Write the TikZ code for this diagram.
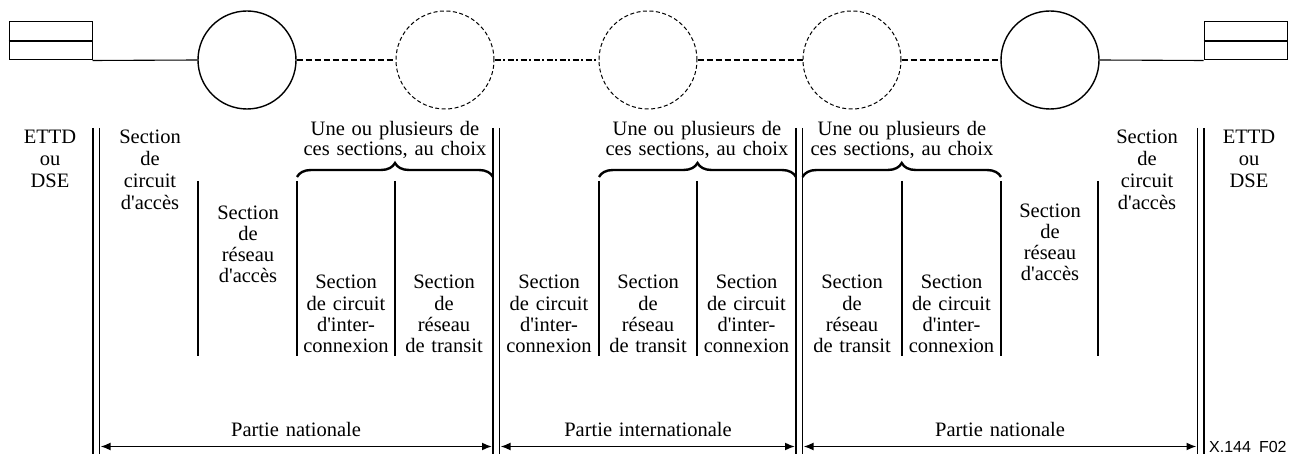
\documentclass[tikz,border=0pt]{standalone}
\usepackage{fontspec}
\setmainfont{Liberation Serif}
\newfontfamily\labfont{Liberation Sans}
\usetikzlibrary{arrows.meta,decorations.pathreplacing}
\newcommand{\ap}{\textquotesingle}
\begin{document}
\begin{tikzpicture}[x=1pt,y=-1pt,
  txt/.style={text width=#1, align=center, inner sep=0pt, anchor=base},
  txt/.default=110pt,
  topfont/.style={font=\fontsize{20.5}{22}\selectfont},
  midfont/.style={font=\fontsize{20.5}{21}\selectfont},
  botfont/.style={font=\fontsize{20.5}{21.3}\selectfont},
  bracefont/.style={font=\fontsize{20.5}{18.5}\selectfont},
  vline/.style={line width=1.7pt},
  nodebox/.style={draw, line width=1pt, minimum width=83pt, minimum height=38pt, inner sep=0pt},
  solidcirc/.style={draw, circle, line width=1.4pt, minimum size=98pt, inner sep=0pt},
  dashcirc/.style={draw, circle, line width=1pt, dash pattern=on 4pt off 2.5pt, minimum size=98pt, inner sep=0pt},
  dashline/.style={line width=1.6pt, dash pattern=on 6pt off 3pt},
  dotline/.style={line width=1.6pt, dash pattern=on 6pt off 2.5pt on 2pt off 2.5pt},
  solidline/.style={line width=1.1pt},
  bracestyle/.style={decorate, decoration={brace, amplitude=14pt}, line width=2.4pt},
  dimarrow/.style={line width=1.7pt, {Latex[length=10pt,width=8pt]}-{Latex[length=10pt,width=8pt]}}
]
\useasboundingbox (0,0) rectangle (1298,454);

% terminal boxes
\node[nodebox] (boxL) at (50.5,41) {};
\draw[line width=2pt] (boxL.west) -- (boxL.east);
\node[nodebox] (boxR) at (1245.5,41) {};
\draw[line width=2pt] (boxR.west) -- (boxR.east);

% exchanges
\node[solidcirc] (c1) at (247,60) {};
\node[dashcirc] (c2) at (445,60) {};
\node[dashcirc] (c3) at (648,60) {};
\node[dashcirc] (c4) at (852,60) {};
\node[solidcirc] (c5) at (1050,60) {};

\draw[solidline] (boxL.south east) -- (c1.west);
\draw[dashline] (c1.east) -- (c2.west);
\draw[dotline] (c2.east) -- (c3.west);
\draw[dashline] (c3.east) -- (c4.west);
\draw[dashline] (c4.east) -- (c5.west);
\draw[solidline] (c5.east) -- (boxR.south west);

% double boundary lines
\foreach \x in {93,99.5,493,499.5,796,802.5,1197.5,1204}
  \draw[vline] (\x,128) -- (\x,454);
% single section lines
\foreach \x in {198,297,395,599,697,902,1001,1098}
  \draw[vline] (\x,181) -- (\x,356);

% braces
\draw[bracestyle] (297,177) -- (493,177);
\draw[bracestyle] (599,177) -- (796,177);
\draw[bracestyle] (802.5,177) -- (1001,177);

\node[txt=200pt, bracefont] (b1) at (395,136) {Une ou plusieurs de\\ces sections, au choix};
\node[txt=200pt, bracefont] (b2) at (697,136) {Une ou plusieurs de\\ces sections, au choix};
\node[txt=200pt, bracefont] (b3) at (902,136) {Une ou plusieurs de\\ces sections, au choix};

% top text blocks
\node[txt, topfont] (ettdL) at (50,144) {ETTD\\ou\\DSE};
\node[txt, topfont] (ettdR) at (1249,144) {ETTD\\ou\\DSE};
\node[txt, topfont] (accL) at (150,144) {Section\\de\\circuit\\d\ap acc\`es};
\node[txt, topfont] (accR) at (1147,144) {Section\\de\\circuit\\d\ap acc\`es};
\node[txt, midfont] (resL) at (248,220) {Section\\de\\r\'eseau\\d\ap acc\`es};
\node[txt, midfont] (resR) at (1050,218) {Section\\de\\r\'eseau\\d\ap acc\`es};

% bottom text blocks
\node[txt, botfont] (s1) at (346,289) {Section\\de circuit\\d\ap inter-\\connexion};
\node[txt, botfont] (s2) at (444,289) {Section\\de\\r\'eseau\\de transit};
\node[txt, botfont] (s3) at (549,289) {Section\\de circuit\\d\ap inter-\\connexion};
\node[txt, botfont] (s4) at (648,289) {Section\\de\\r\'eseau\\de transit};
\node[txt, botfont] (s5) at (746.5,289) {Section\\de circuit\\d\ap inter-\\connexion};
\node[txt, botfont] (s6) at (852,289) {Section\\de\\r\'eseau\\de transit};
\node[txt, botfont] (s7) at (951.5,289) {Section\\de circuit\\d\ap inter-\\connexion};

% extent arrows
\coordinate (p1l) at (100.5,446.5);
\coordinate (p1r) at (492,446.5);
\coordinate (p2l) at (500.5,446.5);
\coordinate (p2r) at (795,446.5);
\coordinate (p3l) at (803.5,446.5);
\coordinate (p3r) at (1196.5,446.5);
\draw[dimarrow] (p1l) -- (p1r);
\draw[dimarrow] (p2l) -- (p2r);
\draw[dimarrow] (p3l) -- (p3r);
\node[txt=250pt, midfont] (n1) at (296,436) {Partie nationale};
\node[txt=250pt, midfont] (n2) at (648,436) {Partie internationale};
\node[txt=250pt, midfont] (n3) at (1000,436) {Partie nationale};

\node[anchor=base west, inner sep=0pt, font=\labfont\fontsize{16}{16}\selectfont] (fig) at (1209,452) {X.144\hspace{8pt}F02};
\end{tikzpicture}
\end{document}
